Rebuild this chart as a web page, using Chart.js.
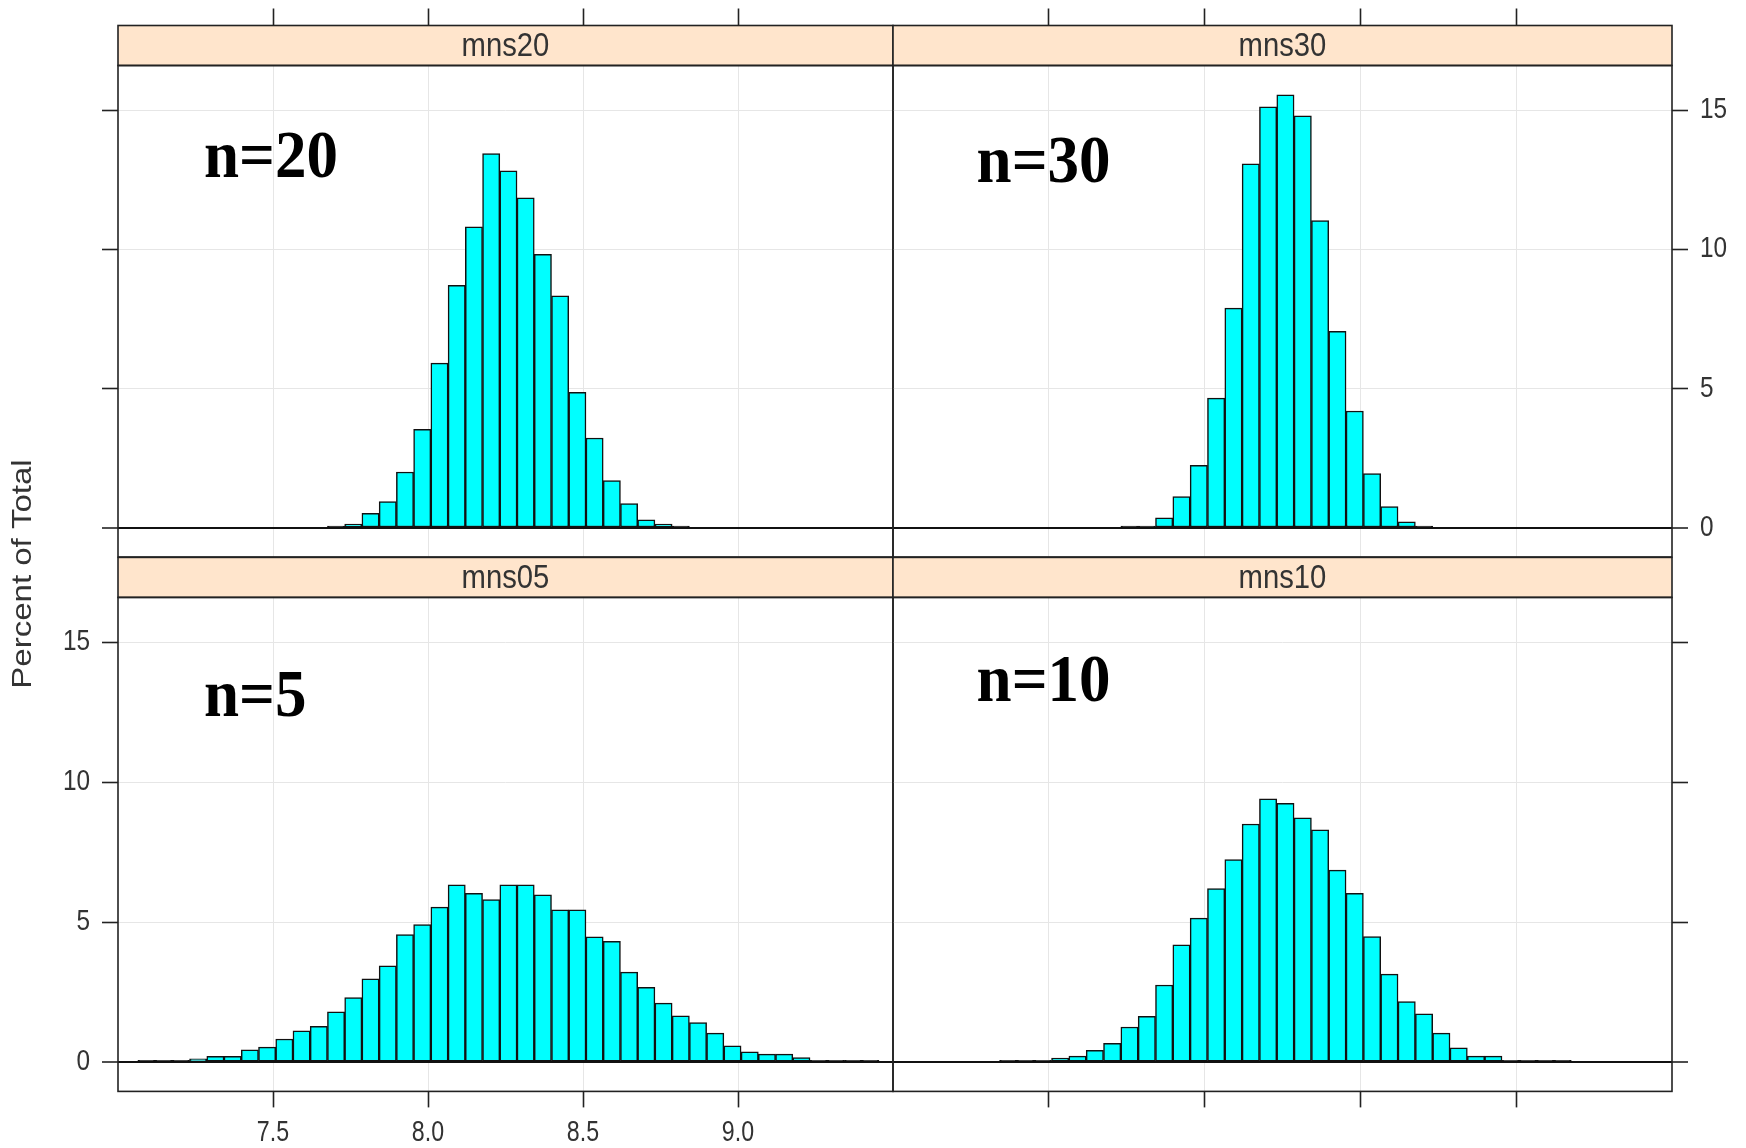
<!DOCTYPE html>
<html>
<head>
<meta charset="utf-8">
<title>Sample means histogram</title>
<script src="https://cdn.jsdelivr.net/npm/chart.js@4.4.0/dist/chart.umd.min.js"></script>
<style>
  html, body { margin: 0; padding: 0; background: #fff; overflow: hidden; }
  canvas { position: absolute; left: 0; top: 0; }
</style>
</head>
<body>
<canvas id="p0" width="1746" height="1148"></canvas>
<canvas id="p1" width="1746" height="1148"></canvas>
<canvas id="p2" width="1746" height="1148"></canvas>
<canvas id="p3" width="1746" height="1148"></canvas>
<script>
// bin midpoints, shared by all four panels
const binMids = [
  7.0918, 7.1474, 7.2030, 7.2586, 7.3142, 7.3698, 7.4254, 7.4810, 7.5366, 7.5922,
  7.6478, 7.7034, 7.7590, 7.8146, 7.8702, 7.9258, 7.9814, 8.0370, 8.0926, 8.1482,
  8.2038, 8.2594, 8.3150, 8.3706, 8.4262, 8.4818, 8.5374, 8.5930, 8.6486, 8.7042,
  8.7598, 8.8154, 8.8710, 8.9266, 8.9822, 9.0378, 9.0934, 9.1490, 9.2046, 9.2602,
  9.3158, 9.3714, 9.4270,
];
const xTicks = [7.5, 8.0, 8.5, 9.0];
const yTicks = [0, 5, 10, 15];

// percent of total per bin
const mns05 = [
  0.07, 0.07, 0.07, 0.12, 0.21, 0.21, 0.44, 0.54, 0.83, 1.12,
  1.28, 1.80, 2.31, 2.98, 3.44, 4.56, 4.92, 5.54, 6.34, 6.03,
  5.81, 6.34, 6.34, 5.98, 5.44, 5.44, 4.48, 4.32, 3.22, 2.68,
  2.11, 1.66, 1.42, 1.04, 0.59, 0.37, 0.29, 0.29, 0.17, 0.07,
  0.07, 0.07, 0.07,
];
const mns10 = [
  0, 0, 0, 0, 0, 0.07, 0.07, 0.07, 0.15, 0.22,
  0.43, 0.68, 1.26, 1.64, 2.76, 4.19, 5.15, 6.20, 7.24, 8.51,
  9.41, 9.25, 8.73, 8.30, 6.86, 6.03, 4.49, 3.15, 2.17, 1.73,
  1.04, 0.52, 0.22, 0.22, 0.07, 0.07, 0.07, 0.07, 0, 0,
  0, 0, 0,
];
const mns20 = [
  0, 0, 0, 0, 0, 0, 0, 0, 0, 0,
  0, 0.07, 0.14, 0.53, 0.95, 2.01, 3.54, 5.92, 8.71, 10.81,
  13.44, 12.82, 11.85, 9.82, 8.33, 4.87, 3.23, 1.70, 0.88, 0.29,
  0.14, 0.07, 0, 0, 0, 0, 0, 0, 0, 0,
  0, 0, 0,
];
const mns30 = [
  0, 0, 0, 0, 0, 0, 0, 0, 0, 0,
  0, 0, 0.07, 0.07, 0.37, 1.13, 2.25, 4.66, 7.89, 13.07,
  15.12, 15.55, 14.79, 11.03, 7.06, 4.20, 1.95, 0.77, 0.22, 0.07,
  0, 0, 0, 0, 0, 0, 0, 0, 0, 0,
  0, 0, 0,
];

const W = 1746, H = 1148;
const STRIP_H = 40;
const colEdges = [[118, 893], [893, 1672]];
const rowEdges = [[65.5, 557], [597.4, 1091.4]];
const SANS = '"Liberation Sans", Arial, sans-serif';
const TEXT = "#333";

const panels = [
  { strip: "mns20", note: "n=20", values: mns20, row: 0, col: 0, noteAt: [86, 111.5], xLab: false, yLab: false },
  { strip: "mns30", note: "n=30", values: mns30, row: 0, col: 1, noteAt: [83.6, 116.6], xLab: false, yLab: true },
  { strip: "mns05", note: "n=5", values: mns05, row: 1, col: 0, noteAt: [86, 118.6], xLab: true, yLab: true, ylab: "Percent of Total" },
  { strip: "mns10", note: "n=10", values: mns10, row: 1, col: 1, noteAt: [83.6, 103.5], xLab: false, yLab: false },
];

// narrow-looking text, the original figure is squeezed sideways
function narrowText(ctx, str, x, y, sx) {
  ctx.save();
  ctx.translate(x, y);
  ctx.scale(sx, 1);
  ctx.fillText(str, 0, 0);
  ctx.restore();
}

// strip, panel box, tick labels and the big n= note
const latticeStrip = {
  id: "latticeStrip",
  afterDraw(chart, args, opts) {
    const { ctx, chartArea: a, scales } = chart;
    const w = a.right - a.left;
    ctx.save();
    ctx.fillStyle = "#FFE5CC";
    ctx.fillRect(a.left, a.top - STRIP_H, w, STRIP_H);
    ctx.strokeStyle = "#222";
    ctx.lineWidth = 1.6;
    ctx.strokeRect(a.left, a.top - STRIP_H, w, STRIP_H);
    ctx.strokeRect(a.left, a.top, w, a.bottom - a.top);

    ctx.fillStyle = TEXT;
    ctx.font = "34px " + SANS;
    ctx.textAlign = "center";
    ctx.textBaseline = "middle";
    narrowText(ctx, opts.strip, a.left + w / 2, a.top - STRIP_H / 2 + 1, 0.86);

    // tick labels
    ctx.font = "29px " + SANS;
    if (opts.xLab) {
      ctx.textAlign = "center";
      scales.x.ticks.forEach((t) => {
        narrowText(ctx, t.value.toFixed(1), scales.x.getPixelForValue(t.value), a.bottom + 42, 0.8);
      });
    }
    if (opts.yLab) {
      const onLeft = scales.y.position === "left";
      ctx.textAlign = onLeft ? "right" : "left";
      scales.y.ticks.forEach((t) => {
        narrowText(ctx, String(t.value), onLeft ? a.left - 28 : a.right + 28, scales.y.getPixelForValue(t.value), 0.84);
      });
    }

    ctx.fillStyle = "#000";
    ctx.font = 'bold 67px "Liberation Serif", "Times New Roman", serif';
    ctx.textAlign = "left";
    ctx.textBaseline = "alphabetic";
    narrowText(ctx, opts.note, a.left + opts.noteAt[0], a.top + opts.noteAt[1], 0.94);
    ctx.restore();

    if (opts.ylab) {
      ctx.save();
      ctx.translate(23.3, 574);
      ctx.rotate(-Math.PI / 2);
      ctx.scale(1, 0.85);
      ctx.fillStyle = TEXT;
      ctx.font = "33px " + SANS;
      ctx.textAlign = "center";
      ctx.textBaseline = "middle";
      ctx.fillText(opts.ylab, 0, 0);
      ctx.restore();
    }
  },
};

panels.forEach((p, i) => {
  const top = p.row === 0;
  const left = p.col === 0;
  const area = {
    left: colEdges[p.col][0], right: colEdges[p.col][1],
    top: rowEdges[p.row][0], bottom: rowEdges[p.row][1],
  };
  const xH = top ? 60 : 50;
  const yW = 60;

  new Chart(document.getElementById("p" + i).getContext("2d"), {
    type: "bar",
    data: {
      datasets: [
        {
          data: binMids.map((x, k) => ({ x: x, y: p.values[k] || null })),
          // very thin bars are all outline in the original
          backgroundColor: (c) => (c.raw && c.raw.y < 0.1 ? "#111" : "#00FFFF"),
          borderColor: "#111",
          borderWidth: 1.5,
          borderSkipped: false,
          barPercentage: 1,
          categoryPercentage: 1,
          grouped: false,
        },
      ],
    },
    options: {
      responsive: false,
      animation: false,
      events: [],
      layout: {
        padding: {
          left: left ? area.left - yW : area.left,
          right: left ? W - area.right : W - area.right - yW,
          top: top ? area.top - xH : area.top,
          bottom: top ? H - area.bottom : H - area.bottom - xH,
        },
      },
      scales: {
        x: {
          type: "linear",
          position: top ? "top" : "bottom",
          min: 7.0,
          max: 9.5,
          offset: false,
          afterBuildTicks: (s) => { s.ticks = xTicks.map((v) => ({ value: v })); },
          afterFit: (s) => { s.height = xH; },
          ticks: { maxRotation: 0, autoSkip: false, callback: () => "" },
          grid: {
            offset: false,
            color: "#e6e6e6",
            lineWidth: 1,
            tickColor: "#222",
            tickWidth: 1.6,
            tickLength: top ? 57 : 16,
          },
          border: { display: false },
        },
        y: {
          type: "linear",
          position: left ? "left" : "right",
          min: -1.04,
          max: 16.6,
          afterBuildTicks: (s) => { s.ticks = yTicks.map((v) => ({ value: v })); },
          afterFit: (s) => { s.width = yW; },
          ticks: { callback: () => "" },
          grid: {
            color: (c) => (c.tick && c.tick.value === 0 ? "#111" : "#e6e6e6"),
            lineWidth: (c) => (c.tick && c.tick.value === 0 ? 2 : 1),
            tickColor: "#222",
            tickWidth: 1.6,
            tickLength: 16,
          },
          border: { display: false },
        },
      },
      plugins: {
        legend: { display: false },
        tooltip: { enabled: false },
        latticeStrip: {
          strip: p.strip, note: p.note, noteAt: p.noteAt, ylab: p.ylab,
          xLab: p.xLab, yLab: p.yLab,
        },
      },
    },
    plugins: [latticeStrip],
  });
});
</script>
</body>
</html>
